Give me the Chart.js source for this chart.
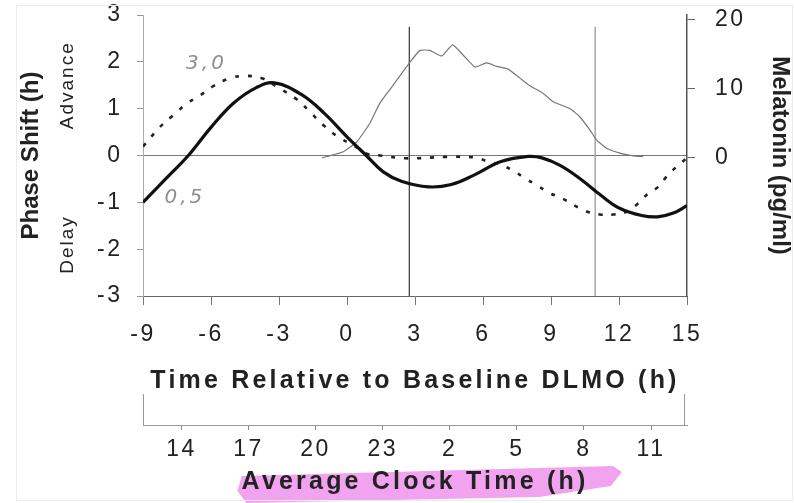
<!DOCTYPE html>
<html>
<head>
<meta charset="utf-8">
<title>Phase Shift vs Time Relative to DLMO</title>
<script src="https://cdn.jsdelivr.net/npm/chart.js@4.4.1/dist/chart.umd.min.js"></script>
<style>
  body { margin: 0; background: #fff; }
  #contenedor { position: relative; width: 794px; height: 503px; }
  #marco { position: absolute; left: 16px; top: 5px; width: 775px; height: 494px; border: 1px solid #ececec; pointer-events: none; }
</style>
</head>
<body>
<div id="contenedor">
  <canvas id="grafica" width="794" height="503"></canvas>
  <div id="marco"></div>
</div>
<script>
// ---------- DATOS ----------

// curva de respuesta de fase, 0.5 mg (linea continua)
const horasFase05 = [-9, -8, -7, -6, -5, -4, -3.2, -2, -1, 0, 0.85, 1.6, 2.4, 3.6, 4.6, 5.6, 6.8, 8, 8.6, 9.4, 10.3, 11.2, 12, 13, 13.7, 14.4, 15]
const fase05 = [-1, -0.5, 0, 0.6, 1.12, 1.45, 1.55, 1.3, 0.9, 0.4, 0, -0.35, -0.55, -0.67, -0.62, -0.42, -0.13, -0.02, -0.05, -0.21, -0.5, -0.85, -1.12, -1.28, -1.31, -1.23, -1.07]

// curva de respuesta de fase, 3.0 mg (linea punteada)
const horasFase30 = [-9, -8.25, -7.66, -7.07, -6.49, -5.9, -5.16, -4.43, -3.69, -3.1, -2.22, -1.63, -1.05, -0.31, 0.28, 0.87, 1.45, 2.6, 4.4, 5.65, 6.16, 6.75, 7.33, 7.85, 8.37, 8.88, 9.47, 10.5, 11.16, 11.75, 12.34, 12.85, 13.29, 13.73, 14.1, 14.54, 15]
const fase30 = [0.19, 0.61, 0.86, 1.11, 1.28, 1.48, 1.65, 1.7, 1.64, 1.47, 1.2, 0.93, 0.65, 0.37, 0.22, 0.04, 0, -0.06, -0.03, -0.04, -0.12, -0.2, -0.32, -0.49, -0.63, -0.79, -0.91, -1.18, -1.26, -1.26, -1.2, -1.02, -0.81, -0.67, -0.45, -0.24, -0.05]

// perfil de melatonina (eje derecho, pg/ml)
const horasMelatonina = [-1.1, -0.9, -0.16, 0.43, 1.01, 1.45, 2.04, 2.78, 3.22, 3.66, 4.18, 4.66, 5.13, 5.65, 6.16, 6.6, 7.11, 7.63, 8.07, 8.66, 9.1, 9.84, 10.28, 10.72, 11.01, 11.45, 12.04, 12.63, 13.07]
const melatonina = [0, 0.2, 0.9, 2.3, 5.0, 7.9, 10.5, 13.8, 15.5, 15.5, 14.7, 16.3, 14.8, 13.1, 13.7, 13.2, 12.8, 11.5, 10.4, 9.3, 8.1, 7.1, 5.9, 4.0, 2.6, 1.4, 0.7, 0.3, 0.2]

// lineas verticales (horas relativas al DLMO)
const lineasVerticales = [2.75, 10.95]
const alturaLineas = [-3, 2.75]

// etiquetas de los ejes
const ticksMelatonina = [0, 10, 20]
const horasReloj = [14, 17, 20, 23, 26, 29, 32, 35]

const juntar = (xs, ys) => xs.map((x, i) => ({ x: x, y: ys[i] }))

// ---------- PLUGINS ----------

// el original esta estirado a lo ancho: un poco de espacio entre letras
const letrasAnchas = {
    id: 'letrasAnchas',
    beforeLayout(chart) {
        Object.values(chart.scales).forEach((escala) => {
            escala.draw = function (area) {
                const ctx = this.ctx
                this.drawBackground()
                this.drawGrid(area)
                this.drawBorder()
                ctx.letterSpacing = this.isHorizontal() ? '3.2px' : '0px'
                this.drawTitle()
                ctx.letterSpacing = '2.5px'
                this.drawLabels(area)
                ctx.letterSpacing = '0px'
            }
        })
    }
}

// subrayado rosa, corchete del eje de reloj, textos sueltos
const adornos = {
    id: 'adornos',
    beforeDraw(chart) {
        const { ctx } = chart
        const r = chart.scales.reloj
        const b = r.bottom
        ctx.save()
        ctx.fillStyle = '#f2a3ef'
        ctx.beginPath()
        ctx.moveTo(r.getPixelForValue(16.7), b - 27)
        ctx.lineTo(r.getPixelForValue(33.3), b - 37)
        ctx.lineTo(r.getPixelForValue(33.7), b - 31)
        ctx.lineTo(r.getPixelForValue(33.2), b - 17)
        ctx.lineTo(r.getPixelForValue(30), b - 6)
        ctx.lineTo(r.getPixelForValue(16.9), b)
        ctx.lineTo(r.getPixelForValue(16.5), b - 12)
        ctx.closePath()
        ctx.fill()
        ctx.restore()
    },
    afterDraw(chart) {
        const { ctx } = chart
        const r = chart.scales.reloj
        const x = chart.scales.x
        const y = chart.scales.y
        ctx.save()
        // extremos del corchete
        ctx.strokeStyle = '#999'
        ctx.lineWidth = 1
        ctx.beginPath()
        ctx.moveTo(r.left + 0.5, r.top - 31)
        ctx.lineTo(r.left + 0.5, r.top)
        ctx.moveTo(r.right - 2.5, r.top - 31)
        ctx.lineTo(r.right - 2.5, r.top)
        ctx.stroke()

        // Advance / Delay
        ctx.fillStyle = '#222'
        ctx.font = "19px 'Liberation Sans', Arial, sans-serif"
        ctx.letterSpacing = '2px'
        ctx.textAlign = 'center'
        ctx.textBaseline = 'middle'
        const etiquetas = [['Advance', 1.5], ['Delay', -1.9]]
        etiquetas.forEach(([texto, valor]) => {
            ctx.save()
            ctx.translate(68, y.getPixelForValue(valor))
            ctx.rotate(-Math.PI / 2)
            ctx.fillText(texto, 0, 0)
            ctx.restore()
        })

        // anotaciones a mano
        ctx.fillStyle = '#8e8e8e'
        ctx.font = "italic 20px 'DejaVu Sans', sans-serif"
        ctx.letterSpacing = '3px'
        ctx.fillText('3,0', x.getPixelForValue(-6.2), y.getPixelForValue(1.95))
        ctx.fillText('0,5', x.getPixelForValue(-7.15), y.getPixelForValue(-0.9))
        ctx.restore()
    }
}

// ---------- GRAFICA ----------

Chart.defaults.font.family = "'Liberation Sans', Arial, sans-serif"
Chart.defaults.color = '#222'

const fuenteTicks = { size: 23 }
const fuenteTitulo = { size: 25, weight: 'bold' }

// los ejes verticales no reservan espacio extra arriba/abajo
const sinRelleno = (escala) => { escala.paddingTop = 0; escala.paddingBottom = 0 }

const lineasV = lineasVerticales.map((h, i) => ({
    data: juntar([h, h], alturaLineas),
    borderColor: i === 0 ? '#444' : '#9a9a9a',
    borderWidth: 1.3,
    yAxisID: 'y'
}))

new Chart(document.getElementById('grafica'), {
    type: 'line',
    data: {
        datasets: [
            {
                label: '0.5 mg',
                data: juntar(horasFase05, fase05),
                borderColor: '#111',
                borderWidth: 3.2,
                tension: 0.4,
                yAxisID: 'y'
            },
            {
                label: '3.0 mg',
                data: juntar(horasFase30, fase30),
                borderColor: '#222',
                borderWidth: 2.6,
                borderDash: [4, 9],
                tension: 0.4,
                yAxisID: 'y'
            },
            {
                label: 'Melatonin',
                data: juntar(horasMelatonina, melatonina),
                borderColor: '#777',
                borderWidth: 1.2,
                tension: 0.15,
                yAxisID: 'y1'
            },
            ...lineasV
        ]
    },
    options: {
        responsive: false,
        animation: false,
        layout: { padding: { top: 15, left: 0, right: 0, bottom: 0 } },
        elements: { point: { radius: 0 } },
        plugins: { legend: { display: false }, tooltip: { enabled: false } },
        scales: {
            x: {
                type: 'linear',
                position: 'bottom',
                min: -9,
                max: 15,
                ticks: { stepSize: 3, font: fuenteTicks, padding: 16 },
                grid: { drawOnChartArea: false, tickLength: 9, tickColor: '#777' },
                border: { color: '#666' },
                title: { display: true, text: 'Time Relative to Baseline DLMO (h)', font: fuenteTitulo, padding: { top: 0, bottom: 29 } },
                afterFit: (escala) => { escala.height = 129 }
            },
            reloj: {
                type: 'linear',
                axis: 'x',
                position: 'bottom',
                weight: 1,
                min: 12.28,
                max: 36.61,
                afterBuildTicks: (escala) => { escala.ticks = horasReloj.map(v => ({ value: v })) },
                ticks: { font: fuenteTicks, padding: 6, callback: (v) => v % 24 },
                grid: { drawOnChartArea: false, tickLength: 5, tickColor: '#888' },
                border: { color: '#999' },
                title: { display: true, text: 'Average Clock Time (h)', font: fuenteTitulo, padding: { top: 0, bottom: 6 } },
                afterFit: (escala) => { escala.height = 78 }
            },
            y: {
                position: 'left',
                min: -3,
                max: 3,
                ticks: { stepSize: 1, font: fuenteTicks, padding: 14.5 },
                grid: {
                    color: (c) => (c.tick && c.tick.value === 0 ? '#777' : 'rgba(0,0,0,0)'),
                    tickLength: 6,
                    tickColor: '#999'
                },
                border: { color: '#aaa' },
                title: { display: true, text: 'Phase Shift (h)', font: { size: 24, weight: 'bold' }, padding: { top: 16.6, bottom: 0 } },
                afterFit: (escala) => { escala.width = 143; sinRelleno(escala) }
            },
            y1: {
                position: 'right',
                min: -19.9,
                max: 20.6,
                afterBuildTicks: (escala) => { escala.ticks = ticksMelatonina.map(v => ({ value: v })) },
                ticks: { font: fuenteTicks, padding: 20 },
                grid: { drawOnChartArea: false, tickLength: 8, tickColor: '#666' },
                border: { color: '#555', width: 1.5 },
                title: { display: true, text: 'Melatonin (pg/ml)', font: { size: 24, weight: 'bold' }, padding: { top: 0, bottom: 0 } },
                afterFit: (escala) => { escala.width = 107; sinRelleno(escala) }
            }
        }
    },
    plugins: [letrasAnchas, adornos]
})
</script>
</body>
</html>
